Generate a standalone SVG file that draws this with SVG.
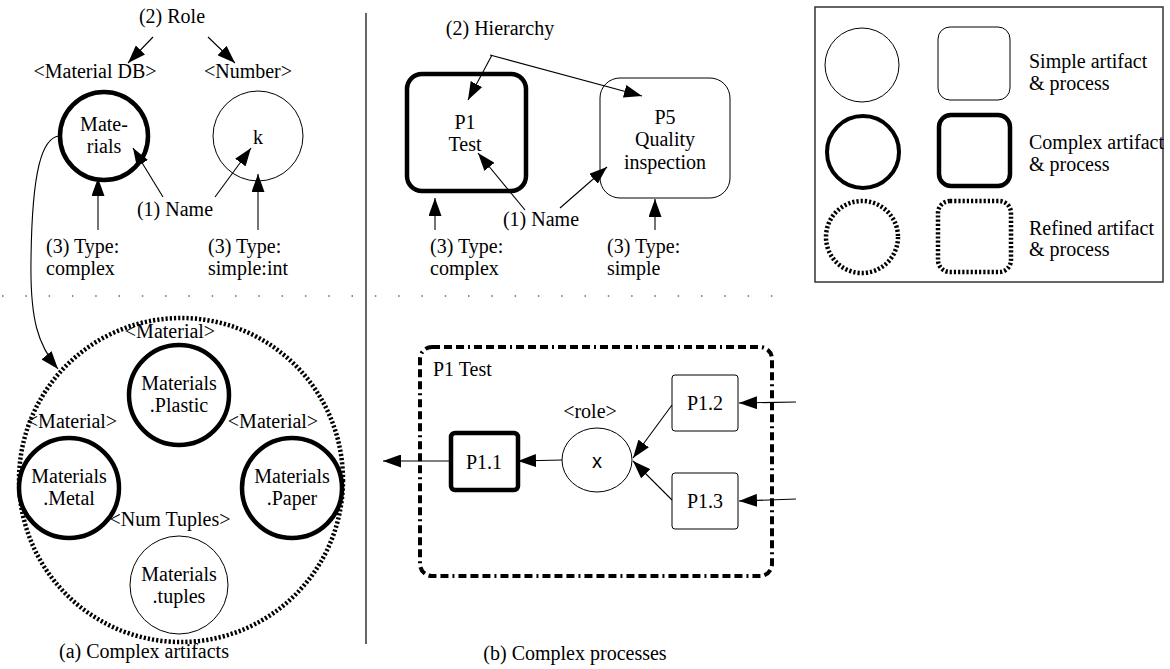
<svg xmlns="http://www.w3.org/2000/svg" width="1170" height="669" viewBox="0 0 1170 669" font-family="'Liberation Serif', 'DejaVu Serif', serif">
<style>
text{font-family:'Liberation Serif','DejaVu Serif',serif;font-size:20px;fill:#000}
.c{text-anchor:middle}
text.sans{font-family:'Liberation Sans','DejaVu Sans',sans-serif}
.thin{fill:#fff;stroke:#000;stroke-width:1}
.thick{fill:#fff;stroke:#000;stroke-width:4.5}
.refined{fill:none;stroke:#000;stroke-width:4.5;stroke-dasharray:2.2 2}
.conn{fill:none;stroke:#000;stroke-width:1.1}
</style>
<defs>
<marker id="ah" markerUnits="userSpaceOnUse" markerWidth="18" markerHeight="13" refX="18" refY="6.5" orient="auto">
<path d="M0,0 L18,6.5 L0,13 z" fill="#000"/>
</marker>
</defs>
<rect width="1170" height="669" fill="#fff"/>

<g id="dividers">
<line x1="366" y1="13" x2="366" y2="644" stroke="#000" stroke-width="1.2"/>
<line x1="2" y1="296" x2="780" y2="296" stroke="#666" stroke-width="1.5" stroke-dasharray="1.5 21.8"/>
</g>

<g id="lbl-role"><text class="c" x="172" y="23">(2) Role</text></g>
<g id="lbl-materialdb"><text class="c" x="95" y="78">&lt;Material DB&gt;</text></g>
<g id="lbl-number"><text class="c" x="248" y="78">&lt;Number&gt;</text></g>
<g id="node-materials">
<circle class="thick" cx="104" cy="136" r="44"/>
<text class="c" x="104" y="131">Mate-</text>
<text class="c" x="104" y="153">rials</text>
</g>
<g id="node-k">
<circle class="thin" cx="258" cy="136" r="45"/>
<text class="c" x="258" y="144">k</text>
</g>
<g id="lbl-name-a"><text class="c" x="175" y="216">(1) Name</text></g>
<g id="lbl-type-a1"><text x="46" y="253">(3) Type:</text><text x="46" y="275">complex</text></g>
<g id="lbl-type-a2"><text x="208" y="253">(3) Type:</text><text x="208" y="275">simple:int</text></g>

<g id="node-materials-refined">
<circle class="refined" cx="181" cy="480" r="162"/>
</g>
<g id="lbl-mat-top"><text class="c" x="170" y="338">&lt;Material&gt;</text></g>
<g id="lbl-mat-left"><text class="c" x="72" y="428">&lt;Material&gt;</text></g>
<g id="lbl-mat-right"><text class="c" x="273" y="428">&lt;Material&gt;</text></g>
<g id="lbl-numtuples"><text class="c" x="170" y="526">&lt;Num Tuples&gt;</text></g>
<g id="node-plastic">
<circle class="thick" cx="179" cy="395" r="50"/>
<text class="c" x="179" y="390">Materials</text>
<text class="c" x="179" y="412">.Plastic</text>
</g>
<g id="node-metal">
<circle class="thick" cx="69" cy="488" r="50"/>
<text class="c" x="69" y="483">Materials</text>
<text class="c" x="69" y="505">.Metal</text>
</g>
<g id="node-paper">
<circle class="thick" cx="292" cy="488" r="50"/>
<text class="c" x="292" y="483">Materials</text>
<text class="c" x="292" y="505">.Paper</text>
</g>
<g id="node-tuples">
<circle class="thin" cx="179" cy="585" r="49"/>
<text class="c" x="179" y="581">Materials</text>
<text class="c" x="179" y="603">.tuples</text>
</g>
<g id="caption-a"><text class="c" x="144" y="658">(a) Complex artifacts</text></g>

<g id="lbl-hierarchy"><text class="c" x="500" y="35">(2) Hierarchy</text></g>
<g id="node-p1">
<rect class="thick" x="407" y="74" width="119" height="117" rx="15"/>
<text class="c" x="465" y="129">P1</text>
<text class="c" x="465" y="151">Test</text>
</g>
<g id="node-p5">
<rect class="thin" x="600" y="78" width="130" height="120" rx="20"/>
<text class="c" x="665" y="124">P5</text>
<text class="c" x="665" y="146">Quality</text>
<text class="c" x="665" y="169">inspection</text>
</g>
<g id="lbl-name-b"><text class="c" x="541" y="226">(1) Name</text></g>
<g id="lbl-type-b1"><text x="430" y="253">(3) Type:</text><text x="430" y="275">complex</text></g>
<g id="lbl-type-b2"><text x="607" y="253">(3) Type:</text><text x="607" y="275">simple</text></g>

<g id="node-p1-complex">
<rect x="420" y="347" width="352" height="229" rx="12" fill="none" stroke="#000" stroke-width="4" stroke-dasharray="8 4 8 4 8 4 2 4"/>
<text x="433" y="376">P1 Test</text>
</g>
<g id="node-p11">
<rect class="thick" x="451" y="433" width="67" height="57" rx="4"/>
<text class="c" x="484" y="469">P1.1</text>
</g>
<g id="node-x">
<ellipse class="thin" cx="597" cy="460" rx="35" ry="32"/>
<text class="c sans" x="597" y="468">x</text>
</g>
<g id="lbl-role-b"><text class="c" x="590" y="418">&lt;role&gt;</text></g>
<g id="node-p12">
<rect class="thin" x="672" y="375" width="66" height="56" rx="3"/>
<text class="c" x="705" y="410">P1.2</text>
</g>
<g id="node-p13">
<rect class="thin" x="672" y="473" width="66" height="56" rx="3"/>
<text class="c" x="705" y="508">P1.3</text>
</g>
<g id="caption-b"><text class="c" x="575" y="660">(b) Complex processes</text></g>

<g id="legend">
<rect x="815" y="7" width="348" height="275" fill="none" stroke="#333" stroke-width="1.5"/>
<circle class="thin" cx="862" cy="65" r="37"/>
<rect class="thin" x="938" y="27" width="72" height="73" rx="12"/>
<text x="1029" y="68">Simple artifact</text>
<text x="1029" y="90">&amp; process</text>
<circle class="thick" cx="863" cy="152" r="36" style="stroke-width:4"/>
<rect class="thick" x="939" y="115" width="71" height="71" rx="12"/>
<text x="1029" y="149">Complex artifact</text>
<text x="1029" y="171">&amp; process</text>
<circle class="refined" cx="862" cy="237" r="36"/>
<rect class="refined" x="938" y="201" width="73" height="71" rx="12"/>
<text x="1029" y="235">Refined artifact</text>
<text x="1029" y="256">&amp; process</text>
</g>

<g id="connectors">
<line class="conn" x1="153" y1="37" x2="128" y2="63" marker-end="url(#ah)"/>
<line class="conn" x1="208" y1="37" x2="235" y2="63" marker-end="url(#ah)"/>
<line class="conn" x1="163" y1="197" x2="133" y2="148" marker-end="url(#ah)"/>
<line class="conn" x1="215" y1="197" x2="251" y2="148" marker-end="url(#ah)"/>
<line class="conn" x1="98" y1="230" x2="98" y2="178" marker-end="url(#ah)"/>
<line class="conn" x1="258" y1="230" x2="258" y2="174" marker-end="url(#ah)"/>
<path class="conn" d="M59,136 C42,138 32,170 31,260 C30,320 38,345 58,369" marker-end="url(#ah)"/>
<line class="conn" x1="492" y1="55" x2="468" y2="100" marker-end="url(#ah)"/>
<line class="conn" x1="490" y1="55" x2="642" y2="96" marker-end="url(#ah)"/>
<line class="conn" x1="525" y1="210" x2="478" y2="153" marker-end="url(#ah)"/>
<line class="conn" x1="560" y1="208" x2="607" y2="167" marker-end="url(#ah)"/>
<line class="conn" x1="435" y1="230" x2="435" y2="198" marker-end="url(#ah)"/>
<line class="conn" x1="655" y1="230" x2="655" y2="199" marker-end="url(#ah)"/>
<line class="conn" x1="672" y1="405" x2="633" y2="458" marker-end="url(#ah)"/>
<line class="conn" x1="672" y1="500" x2="633" y2="461" marker-end="url(#ah)"/>
<line class="conn" x1="562" y1="460" x2="518" y2="461" marker-end="url(#ah)"/>
<line class="conn" x1="451" y1="461" x2="383" y2="461" marker-end="url(#ah)"/>
<line class="conn" x1="796" y1="402" x2="739" y2="403" marker-end="url(#ah)"/>
<line class="conn" x1="796" y1="499" x2="739" y2="501" marker-end="url(#ah)"/>
</g>
</svg>
